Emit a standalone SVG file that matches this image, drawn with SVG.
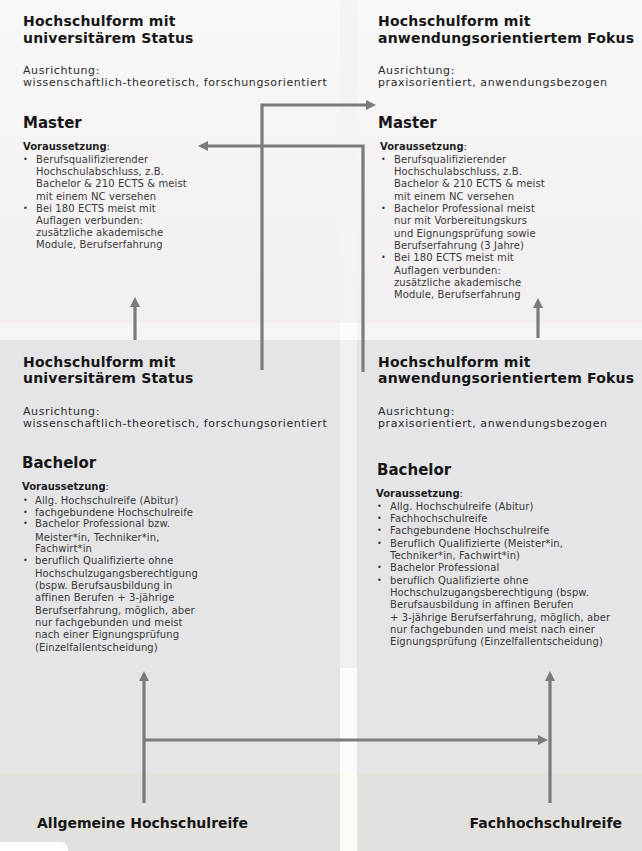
<svg xmlns="http://www.w3.org/2000/svg" width="642" height="851" viewBox="0 0 642 851">
<style>
.t{font-family:"DejaVu Sans",Verdana,sans-serif;font-weight:bold;font-size:14px;fill:#161616;letter-spacing:0.2px}
.h{font-family:"DejaVu Sans",Verdana,sans-serif;font-weight:bold;font-size:15px;fill:#161616}
.a{font-family:"DejaVu Sans",Verdana,sans-serif;font-size:11px;fill:#2a2a2a;letter-spacing:0.6px}
.v{font-family:"DejaVu Sans",Verdana,sans-serif;font-weight:bold;font-size:10px;fill:#1e1e1e}
.c{font-weight:normal}
.b{font-family:"DejaVu Sans",Verdana,sans-serif;font-size:10px;fill:#383838;letter-spacing:0.1px}
.d{font-family:"DejaVu Sans",Verdana,sans-serif;font-size:8px;fill:#383838}
.ln{fill:none;stroke:#7b7b7b;stroke-width:3.2;marker-end:url(#ah)}
</style>
<defs>
<linearGradient id="topg" x1="0" y1="0" x2="0" y2="1">
<stop offset="0" stop-color="#f9f8f9"/>
<stop offset="1" stop-color="#f2eef1"/>
</linearGradient>
<marker id="ah" viewBox="0 0 10 10" refX="0" refY="5" markerWidth="10" markerHeight="10" markerUnits="userSpaceOnUse" orient="auto">
<path d="M0,0 L10,5 L0,10 Z" fill="#7b7b7b"/>
</marker>
</defs>
<g id="background">
<rect x="0" y="0" width="642" height="323" fill="url(#topg)"/>
<rect x="340" y="0" width="17" height="323" fill="#f5f2f4"/>
<rect x="0" y="323" width="642" height="17" fill="#f5f5f6"/>
<rect x="340" y="323" width="17" height="17" fill="#fcfcfc"/>
<rect x="0" y="340" width="642" height="328" fill="#e5e5e7"/>
<rect x="340" y="340" width="17" height="328" fill="#f0f0f2"/>
<rect x="0" y="668" width="642" height="105" fill="#e5e5e5"/>
<rect x="340" y="668" width="17" height="105" fill="#fbfbfb"/>
<rect x="0" y="773" width="642" height="78" fill="#e2e1dd"/>
<rect x="340" y="773" width="17" height="78" fill="#fefaf4"/>
<path d="M0,851 V842 H60 Q68,842 68,851 Z" fill="#ffffff"/>
</g>
<g id="connectors">
<path class="ln" d="M262,370 V105 H366"/>
<path class="ln" d="M363,372 V146 H208"/>
<path class="ln" d="M135,340 V307"/>
<path class="ln" d="M538,338 V308"/>
<path class="ln" d="M144,803 V681"/>
<path class="ln" d="M550,803 V681"/>
<path class="ln" d="M144,740 H538"/>
</g>
<g id="uni-master">
<text class="t" x="23" y="26">Hochschulform mit</text>
<text class="t" x="23" y="43">universitärem Status</text>
<text class="a" x="23" y="74">Ausrichtung:</text>
<text class="a" x="23" y="86">wissenschaftlich-theoretisch, forschungsorientiert</text>
<text class="h" x="23" y="128">Master</text>
<text class="v" x="23" y="150">Voraussetzung<tspan class="c">:</tspan></text>
<text class="d" x="23" y="162">•</text>
<text class="b" x="36" y="163">Berufsqualifizierender</text>
<text class="b" x="36" y="175">Hochschulabschluss, z.B.</text>
<text class="b" x="36" y="187">Bachelor &amp; 210 ECTS &amp; meist</text>
<text class="b" x="36" y="199.5">mit einem NC versehen</text>
<text class="d" x="23" y="210.5">•</text>
<text class="b" x="36" y="211.5">Bei 180 ECTS meist mit</text>
<text class="b" x="36" y="223.5">Auflagen verbunden:</text>
<text class="b" x="36" y="236">zusätzliche akademische</text>
<text class="b" x="36" y="248">Module, Berufserfahrung</text>
</g>
<g id="fh-master">
<text class="t" x="378" y="26">Hochschulform mit</text>
<text class="t" x="378" y="43">anwendungsorientiertem Fokus</text>
<text class="a" x="378" y="74">Ausrichtung:</text>
<text class="a" x="378" y="86">praxisorientiert, anwendungsbezogen</text>
<text class="h" x="378" y="128">Master</text>
<text class="v" x="380" y="150">Voraussetzung<tspan class="c">:</tspan></text>
<text class="d" x="381" y="162">•</text>
<text class="b" x="394" y="163">Berufsqualifizierender</text>
<text class="b" x="394" y="175">Hochschulabschluss, z.B.</text>
<text class="b" x="394" y="187">Bachelor &amp; 210 ECTS &amp; meist</text>
<text class="b" x="394" y="199.5">mit einem NC versehen</text>
<text class="d" x="381" y="210.5">•</text>
<text class="b" x="394" y="211.5">Bachelor Professional meist</text>
<text class="b" x="394" y="223.5">nur mit Vorbereitungskurs</text>
<text class="b" x="394" y="236.5">und Eignungsprüfung sowie</text>
<text class="b" x="394" y="248.5">Berufserfahrung (3 Jahre)</text>
<text class="d" x="381" y="259.5">•</text>
<text class="b" x="394" y="260.5">Bei 180 ECTS meist mit</text>
<text class="b" x="394" y="273.5">Auflagen verbunden:</text>
<text class="b" x="394" y="285.5">zusätzliche akademische</text>
<text class="b" x="394" y="297.5">Module, Berufserfahrung</text>
</g>
<g id="uni-bachelor">
<text class="t" x="23" y="367">Hochschulform mit</text>
<text class="t" x="23" y="383">universitärem Status</text>
<text class="a" x="23" y="415">Ausrichtung:</text>
<text class="a" x="23" y="427">wissenschaftlich-theoretisch, forschungsorientiert</text>
<text class="h" x="22" y="468">Bachelor</text>
<text class="v" x="22" y="490">Voraussetzung<tspan class="c">:</tspan></text>
<text class="d" x="23" y="502.5">•</text>
<text class="b" x="35" y="503.5">Allg. Hochschulreife (Abitur)</text>
<text class="d" x="23" y="514.5">•</text>
<text class="b" x="35" y="515.5">fachgebundene Hochschulreife</text>
<text class="d" x="23" y="526">•</text>
<text class="b" x="35" y="527">Bachelor Professional bzw.</text>
<text class="b" x="35" y="540.5">Meister*in, Techniker*in,</text>
<text class="b" x="35" y="551.5">Fachwirt*in</text>
<text class="d" x="23" y="562.5">•</text>
<text class="b" x="35" y="563.5">beruflich Qualifizierte ohne</text>
<text class="b" x="35" y="576.5">Hochschulzugangsberechtigung</text>
<text class="b" x="35" y="588.5">(bspw. Berufsausbildung in</text>
<text class="b" x="35" y="600.5">affinen Berufen + 3-jährige</text>
<text class="b" x="35" y="613.5">Berufserfahrung, möglich, aber</text>
<text class="b" x="35" y="625.5">nur fachgebunden und meist</text>
<text class="b" x="35" y="637.5">nach einer Eignungsprüfung</text>
<text class="b" x="35" y="650.5">(Einzelfallentscheidung)</text>
</g>
<g id="fh-bachelor">
<text class="t" x="378" y="367">Hochschulform mit</text>
<text class="t" x="378" y="383">anwendungsorientiertem Fokus</text>
<text class="a" x="378" y="415">Ausrichtung:</text>
<text class="a" x="378" y="427">praxisorientiert, anwendungsbezogen</text>
<text class="h" x="377" y="475">Bachelor</text>
<text class="v" x="376" y="497">Voraussetzung<tspan class="c">:</tspan></text>
<text class="d" x="377" y="508.5">•</text>
<text class="b" x="390" y="509.5">Allg. Hochschulreife (Abitur)</text>
<text class="d" x="377" y="520.5">•</text>
<text class="b" x="390" y="521.5">Fachhochschulreife</text>
<text class="d" x="377" y="532.5">•</text>
<text class="b" x="390" y="533.5">Fachgebundene Hochschulreife</text>
<text class="d" x="377" y="545.5">•</text>
<text class="b" x="390" y="546.5">Beruflich Qualifizierte (Meister*in,</text>
<text class="b" x="390" y="558.5">Techniker*in, Fachwirt*in)</text>
<text class="d" x="377" y="569.5">•</text>
<text class="b" x="390" y="570.5">Bachelor Professional</text>
<text class="d" x="377" y="582.5">•</text>
<text class="b" x="390" y="583.5">beruflich Qualifizierte ohne</text>
<text class="b" x="390" y="595.5">Hochschulzugangsberechtigung (bspw.</text>
<text class="b" x="390" y="607.5">Berufsausbildung in affinen Berufen</text>
<text class="b" x="390" y="620.5">+ 3-jährige Berufserfahrung, möglich, aber</text>
<text class="b" x="390" y="632.5">nur fachgebunden und meist nach einer</text>
<text class="b" x="390" y="644.5">Eignungsprüfung (Einzelfallentscheidung)</text>
</g>
<g id="allgemeine-hochschulreife">
<text class="t" x="37" y="828" style="letter-spacing:0">Allgemeine Hochschulreife</text>
</g>
<g id="fachhochschulreife">
<text class="t" x="622" y="828" text-anchor="end" style="letter-spacing:0">Fachhochschulreife</text>
</g>
</svg>
